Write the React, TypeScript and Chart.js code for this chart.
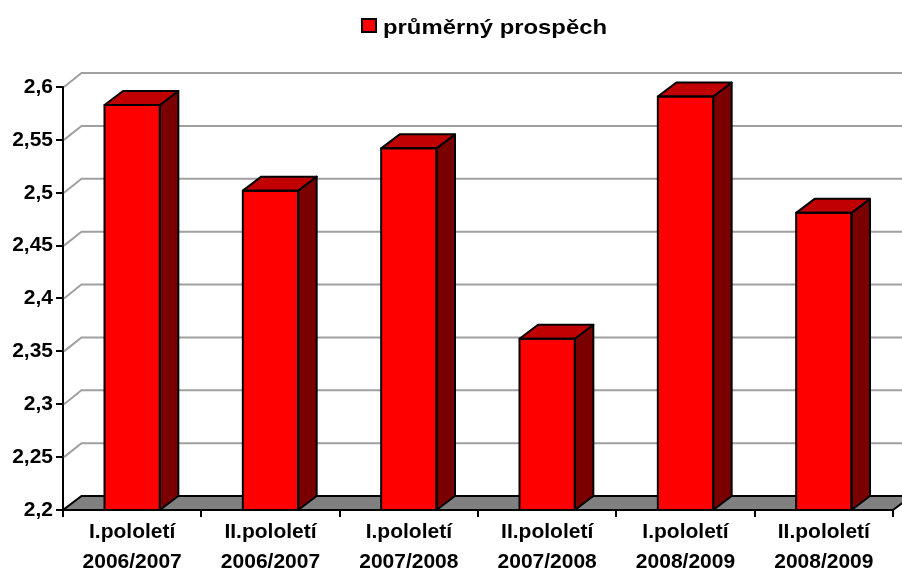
import React, { useEffect, useRef } from "react";
import { Chart, registerables } from "chart.js";

Chart.register(...registerables);

const SERIES_LABEL = "průměrný prospěch";
const CATEGORY_LINE1 = ["I.pololetí", "II.pololetí", "I.pololetí", "II.pololetí", "I.pololetí", "II.pololetí"];
const CATEGORY_LINE2 = ["2006/2007", "2006/2007", "2007/2008", "2007/2008", "2008/2009", "2008/2009"];
const VALUES = [2.583, 2.502, 2.542, 2.362, 2.591, 2.481];
const Y_MIN = 2.2;
const Y_MAX = 2.6;
const Y_STEP = 0.05;

const DX = 18.5;
const DY = 14;
const FONT = "'Liberation Sans', Arial, sans-serif";

const threeD = {
  id: "threeD",
  beforeDatasetsDraw(chart: any) {
    const ctx = chart.ctx;
    const { left, right, bottom } = chart.chartArea;
    const ys = chart.scales.y;
    ctx.save();
    ctx.strokeStyle = "#a0a0a0";
    ctx.lineWidth = 2;
    ys.ticks.forEach((t: any) => {
      if (Math.abs(t.value - Y_MIN) < 1e-9) return;
      const y = ys.getPixelForValue(t.value);
      ctx.beginPath();
      ctx.moveTo(left + 1, y);
      ctx.lineTo(left + DX, y - DY);
      ctx.lineTo(chart.width, y - DY);
      ctx.stroke();
    });
    // floor
    ctx.beginPath();
    ctx.moveTo(left, bottom);
    ctx.lineTo(right, bottom);
    ctx.lineTo(right + DX, bottom - DY);
    ctx.lineTo(left + DX, bottom - DY);
    ctx.closePath();
    ctx.fillStyle = "#808080";
    ctx.fill();
    ctx.strokeStyle = "#000";
    ctx.lineWidth = 2;
    ctx.stroke();
    ctx.restore();
  },
  afterDatasetsDraw(chart: any) {
    const ctx = chart.ctx;
    const meta = chart.getDatasetMeta(0);
    const bottom = chart.chartArea.bottom;
    ctx.save();
    ctx.lineWidth = 2;
    ctx.strokeStyle = "#000";
    ctx.lineJoin = "round";
    meta.data.forEach((bar: any) => {
      const p = bar.getProps(["x", "y", "base", "width"], true);
      const x = p.x;
      const y = p.y;
      const width = p.width;
      const base = Math.min(p.base, bottom);
      const l = x - width / 2;
      const r = x + width / 2;
      // side
      ctx.beginPath();
      ctx.moveTo(r, y);
      ctx.lineTo(r + DX, y - DY);
      ctx.lineTo(r + DX, base - DY);
      ctx.lineTo(r, base);
      ctx.closePath();
      ctx.fillStyle = "#7a0000";
      ctx.fill();
      ctx.stroke();
      // top
      ctx.beginPath();
      ctx.moveTo(l, y);
      ctx.lineTo(r, y);
      ctx.lineTo(r + DX, y - DY);
      ctx.lineTo(l + DX, y - DY);
      ctx.closePath();
      ctx.fillStyle = "#c00000";
      ctx.fill();
      ctx.stroke();
      // front outline
      ctx.strokeRect(l, y, width, base - y);
    });
    ctx.restore();
  },
  afterDraw(chart: any) {
    const ctx = chart.ctx;
    const ds = chart.data.datasets[0];
    ctx.save();
    // legend box
    ctx.fillStyle = ds.backgroundColor;
    ctx.fillRect(362, 19, 14, 13);
    ctx.strokeStyle = "#000";
    ctx.lineWidth = 2;
    ctx.strokeRect(362, 19, 14, 13);
    // legend text
    ctx.font = `bold 21px ${FONT}`;
    ctx.fillStyle = "#000";
    ctx.textBaseline = "alphabetic";
    ctx.textAlign = "left";
    const w = ctx.measureText(ds.label).width;
    const target = 224;
    ctx.translate(383, 33.5);
    ctx.scale(target / w, 1);
    ctx.fillText(ds.label, 0, 0);
    ctx.restore();
  },
};

export default function App() {
  const ref = useRef<HTMLCanvasElement | null>(null);
  useEffect(() => {
    if (!ref.current) return;
    const chart = new Chart(ref.current, {
      type: "bar",
      data: {
        labels: CATEGORY_LINE1.map((a, i) => [a, CATEGORY_LINE2[i]]),
        datasets: [
          {
            label: SERIES_LABEL,
            data: VALUES,
            backgroundColor: "#ff0000",
            borderColor: "#000000",
            borderWidth: 0,
            categoryPercentage: 1,
            barPercentage: 0.4,
          },
        ],
      },
      options: {
        responsive: false,
        animation: false,
        layout: { padding: { top: 87, right: 9, left: 0, bottom: 0 } },
        plugins: {
          legend: { display: false },
          tooltip: { enabled: false },
        },
        scales: {
          x: {
            grid: {
              offset: true,
              drawOnChartArea: false,
              drawTicks: true,
              tickLength: 7,
              color: "#000",
              lineWidth: 2,
            },
            border: { display: true, color: "#000", width: 2 },
            ticks: {
              color: "#000",
              padding: 0,
              maxRotation: 0,
              autoSkip: false,
              font: { family: FONT, size: 21, weight: "bold", lineHeight: 1.45 },
            },
            afterFit(scale: any) {
              scale.height = 64;
            },
          },
          y: {
            min: Y_MIN,
            max: Y_MAX,
            grid: {
              drawOnChartArea: false,
              drawTicks: true,
              tickLength: 7,
              color: "#000",
              lineWidth: 2,
            },
            border: { display: true, color: "#000", width: 2 },
            ticks: {
              stepSize: Y_STEP,
              color: "#000",
              padding: 3,
              font: { family: FONT, size: 21, weight: "bold" },
              callback: (v: any) => String(Number(Number(v).toFixed(2))).replace(".", ","),
            },
            afterFit(scale: any) {
              scale.width = 63;
            },
          },
        },
      },
      plugins: [threeD],
    });
    return () => chart.destroy();
  }, []);
  return (
    <canvas
      ref={ref}
      width={902}
      height={574}
      style={{ position: "fixed", left: 0, top: 0, display: "block" }}
    />
  );
}
